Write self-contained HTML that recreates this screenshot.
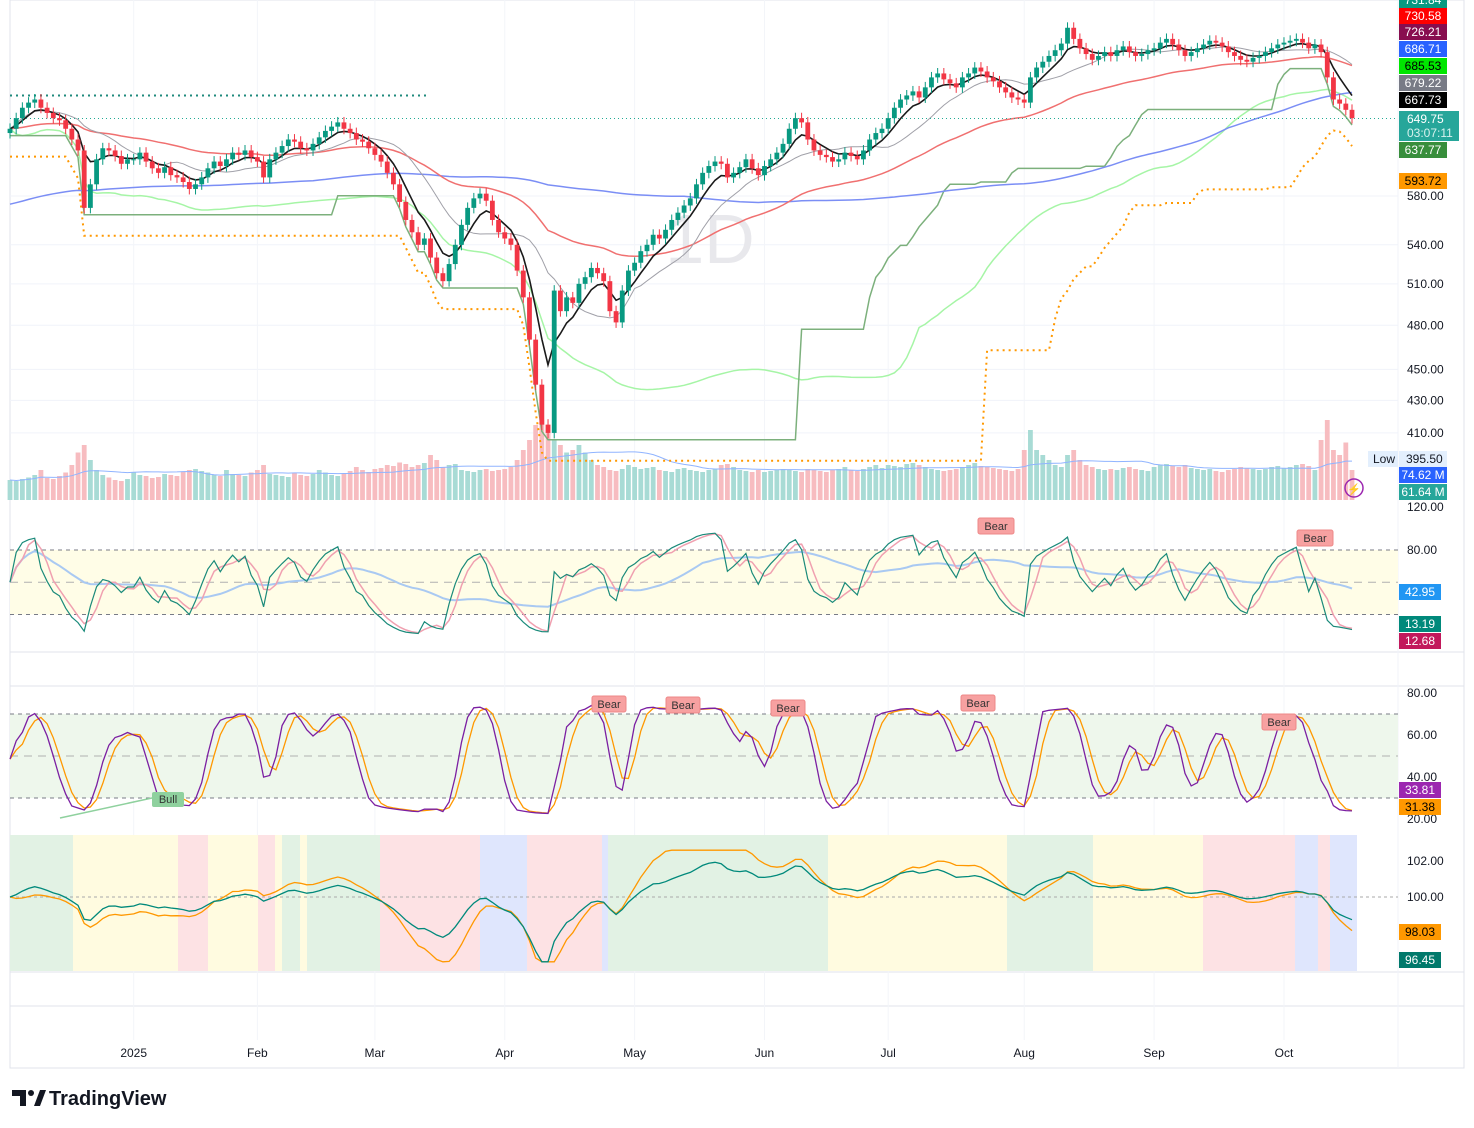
<!DOCTYPE html>
<html><head><meta charset="utf-8">
<style>
body{margin:0;background:#fff;font-family:"Liberation Sans",sans-serif;}
#wrap{position:relative;width:1474px;height:1128px;overflow:hidden;}
svg text{font-family:"Liberation Sans",sans-serif;}
</style></head>
<body>
<div id="wrap">
<svg id="c" width="1474" height="1128" xmlns="http://www.w3.org/2000/svg"></svg>
</div>
<script>
// ---- data ----
const closes=[640,650,660,665,668,660,655,650,648,640,630,620,570,590,612,622,620,615,608,612,
612,618,610,604,600,605,598,596,592,586,590,596,604,610,606,612,618,616,620,614,610,
596,612,618,624,630,628,622,620,626,632,638,642,646,640,636,630,628,622,616,
610,600,590,575,560,550,540,545,530,518,512,525,540,556,570,578,582,576,560,550,545,
540,520,500,470,440,415,410,505,490,500,496,510,515,522,518,512,490,482,505,520,526,
535,540,548,545,552,560,566,572,578,590,600,606,610,608,596,600,605,612,604,598,
606,612,618,626,640,650,646,630,620,616,614,610,612,618,615,612,620,630,636,640,
650,660,668,672,676,670,680,690,694,688,684,680,690,694,700,696,690,686,680,675,670,668,
665,690,700,706,712,718,725,742,730,720,714,708,712,716,712,718,722,716,712,714,718,
720,726,730,724,718,712,716,720,724,728,726,722,716,712,708,706,710,712,716,720,724,
726,728,730,726,720,724,716,690,668,664,658,650];
const volumes=[40,38,42,45,50,60,44,42,48,55,70,95,110,80,60,50,45,40,38,42,
55,50,48,44,46,52,50,48,56,60,62,58,55,50,48,60,52,50,48,55,60,
70,52,50,48,46,55,50,48,52,60,55,50,48,52,58,66,60,56,62,
64,70,68,75,72,66,70,74,90,80,66,70,72,60,58,56,60,62,58,60,62,
66,80,100,120,150,160,150,120,110,95,100,110,95,80,70,66,60,58,62,70,66,
62,64,66,60,58,56,62,64,60,58,56,60,62,70,72,66,60,58,56,60,
56,58,60,62,60,58,56,62,60,58,56,60,62,66,60,58,62,66,70,64,
70,68,66,72,74,70,66,62,60,58,60,62,66,70,74,68,66,64,62,60,58,62,
100,140,100,90,80,70,66,90,100,80,70,66,62,60,62,60,64,66,62,60,58,
66,70,72,68,66,70,64,62,60,62,58,56,60,62,66,64,62,60,62,66,68,
64,66,70,72,68,60,120,160,100,90,115,60];
const xTickLabels=['2025','Feb','Mar','Apr','May','Jun','Jul','Aug','Sep','Oct'];
const xTickIdx=[20,40,59,80,101,122,142,164,185,206];
const priceTicks=[580,540,510,480,450,430,410];
const rsiTicks=[120,80];
const stTicks=[80,60,40,20];
const rocTicks=[102,100];

const S=document.getElementById('c');
const NS='http://www.w3.org/2000/svg';
function el(tag,attrs,parent){const e=document.createElementNS(NS,tag);for(const k in attrs)e.setAttribute(k,attrs[k]);(parent||S).appendChild(e);return e;}
function tx(x,y,s,attrs,parent){const e=el('text',Object.assign({x:x,y:y},attrs),parent);e.textContent=s;return e;}

const N=closes.length;
const X0=10,X1=1352;
const xs=i=>X0+i*(X1-X0)/(N-1);
const py=p=>196+(Math.log(580)-Math.log(p))*683;
const rsiY=v=>550+(80-v)*1.075;
const stY=v=>693+(80-v)*2.1;
const rocY=v=>897-(v-100)*18;

function sma(a,n){return a.map((_,i)=>{const s=a.slice(Math.max(0,i-n+1),i+1);return s.reduce((x,y)=>x+y,0)/s.length;});}
function ema(a,n){const k=2/(n+1);let r=[];a.forEach((v,i)=>r.push(i?r[i-1]+k*(v-r[i-1]):v));return r;}
function std(a,n){const m=sma(a,n);return a.map((_,i)=>{const s=a.slice(Math.max(0,i-n+1),i+1);return Math.sqrt(s.reduce((x,y)=>x+(y-m[i])**2,0)/s.length);});}
function poly(vals,yf,attrs,name){const pts=vals.map((v,i)=>v==null?null:xs(i).toFixed(1)+','+yf(v).toFixed(1)).filter(Boolean).join(' ');const p=el('polyline',Object.assign({points:pts,fill:'none'},attrs));return p;}

el('rect',{x:10,y:0,width:1454,height:1068,fill:'none',stroke:'#e0e3eb'});
[652,686,972,1006].forEach(y=>el('line',{x1:10,x2:1464,y1:y,y2:y,stroke:'#e0e3eb'}));
el('line',{x1:1398,x2:1398,y1:0,y2:1068,stroke:'#f0f3fa'});
priceTicks.forEach(p=>{el('line',{x1:10,x2:1398,y1:py(p),y2:py(p),stroke:'#f0f3fa'});const t=tx(1407,py(p)+4,p.toFixed(2),{'font-size':12,fill:'#131722'});});
xTickIdx.forEach((ix,k)=>{el('line',{x1:xs(ix),x2:xs(ix),y1:0,y2:1040,stroke:'#f3f5f9'});const t=tx(xs(ix),1057,xTickLabels[k],{'font-size':12,fill:'#131722','text-anchor':'middle'});});

tx(710,263,'1D',{'font-size':70,fill:'#e8e8ec','text-anchor':'middle'});

const pre=Array(60).fill(572);
const ext=pre.concat(closes);
const s200=sma(ext,110).slice(60);
const e90=ema(closes,45),s10=ema(closes,6),s20=sma(closes,14),sd=std(closes,60),s60=sma(closes,60);
const lowBand=s60.map((m,i)=>m-2*sd[i]);
const donch=closes.map((_,i)=>Math.min(...closes.slice(Math.max(0,i-40),i+1))*0.99);
const trail=closes.map((_,i)=>Math.min(...closes.slice(Math.max(0,i-70),i+1))*0.96);
const vb=500;
volumes.forEach((v,i)=>{const up=i==0||closes[i]>=closes[i-1];const r=el('rect',{x:xs(i)-2.4,y:vb-v*0.5,width:4.8,height:v*0.5,fill:up?'#a8dbd5':'#f7bcc0'});});
poly(sma(volumes,20),v=>vb-v*0.5,{stroke:'#90b4ff','stroke-width':1},'volume-ma');

poly(lowBand,py,{stroke:'#a6f5a6','stroke-width':1.5},'lower-band-line');
poly(donch,py,{stroke:'#7cb07c','stroke-width':1.5},'donchian-low-line');
poly(trail,py,{stroke:'#ff9800','stroke-width':2,'stroke-dasharray':'2,4'},'trailing-stop');
poly(s200,py,{stroke:'#7b8ef5','stroke-width':1.5},'sma-200-line');
poly(e90,py,{stroke:'#f07070','stroke-width':1.5},'ema-50-line');
poly(s20,py,{stroke:'#a0a0a8','stroke-width':1},'sma-20-line');
poly(s10,py,{stroke:'#1a1a1a','stroke-width':1.6},'sma-10-line');
el('line',{x1:10,x2:430,y1:py(672),y2:py(672),stroke:'#1f8a7c','stroke-width':2,'stroke-dasharray':'2,4'});
el('line',{x1:10,x2:1398,y1:py(649.75),y2:py(649.75),stroke:'#22ab94','stroke-width':1,'stroke-dasharray':'1,3'});

closes.forEach((c,i)=>{const o=i?closes[i-1]:c-4;const up=c>=o;const col=up?'#089981':'#f23645';const hi=Math.max(o,c)*1.008,lo=Math.min(o,c)*0.992;
const w=el('line',{x1:xs(i),x2:xs(i),y1:py(hi),y2:py(lo),stroke:col});
const y1=py(Math.max(o,c)),y2=py(Math.min(o,c));const b=el('rect',{x:xs(i)-2.4,y:y1,width:4.8,height:Math.max(1,y2-y1),fill:col});});

const pl=[['731.84','#089981','#fff',0],['730.58','#ff0000','#fff',16],['726.21','#880e4f','#fff',32],['686.71','#2962ff','#fff',49],['685.53','#00e600','#000',66],['679.22','#787b86','#fff',83],['667.73','#000','#fff',100],['637.77','#388e3c','#fff',150],['593.72','#ff9800','#000',181],['74.62 M','#2962ff','#fff',475],['61.64 M','#26a69a','#fff',492]];
pl.forEach(l=>{const g=el('g',{});el('rect',{x:1399,y:l[3]-8,width:48,height:16,fill:l[1]},g);tx(1423,l[3]+4,l[0],{'font-size':12,'text-anchor':'middle',fill:l[2]},g);});
const cur=el('g',{});
el('rect',{x:1399,y:111,width:60,height:30,fill:'#26a69a'},cur);tx(1407,123,'649.75',{'font-size':12,fill:'#fff'},cur);tx(1407,137,'03:07:11',{'font-size':12,fill:'#d8f2ee'},cur);
el('rect',{x:1368,y:451,width:30,height:16,fill:'#e3effd'});tx(1373,463,'Low',{'font-size':12,fill:'#131722'});
el('rect',{x:1399,y:451,width:48,height:16,fill:'#e3effd'});tx(1406,463,'395.50',{'font-size':12,fill:'#131722'});
el('circle',{cx:1354,cy:488,r:9,fill:'none',stroke:'#9c27b0','stroke-width':1.5});tx(1354,493,'⚡',{'font-size':11,fill:'#9c27b0','text-anchor':'middle'});

const rsi=(()=>{let ag=1,al=1,r=[];closes.forEach((c,i)=>{if(i==0){r.push(50);return;}const d=c-closes[i-1];ag=(ag*4+Math.max(d,0))/5;al=(al*4+Math.max(-d,0))/5;r.push(al==0?100:100-100/(1+ag/al));});return r;})();
el('rect',{x:10,y:rsiY(80),width:1388,height:rsiY(20)-rsiY(80),fill:'#fffde7'});
[80,50,20].forEach(v=>el('line',{x1:10,x2:1398,y1:rsiY(v),y2:rsiY(v),stroke:v==50?'#b0b0b0':'#787b86','stroke-dasharray':v==50?'8,6':'4,4'}));
rsiTicks.forEach(v=>tx(1407,rsiY(v)+4,v.toFixed(2),{'font-size':12,fill:'#131722'}));
poly(sma(rsi,25),rsiY,{stroke:'#a9c9f2','stroke-width':2},'rsi-long-ma');
poly(sma(rsi,3),rsiY,{stroke:'#f0a0b0','stroke-width':1.5},'rsi-signal');
poly(rsi,rsiY,{stroke:'#1a8a7a','stroke-width':1.2},'rsi-line');
[['42.95','#2196f3',592],['13.19','#00897b',624],['12.68','#c2185b',641]].forEach(l=>{el('rect',{x:1399,y:l[2]-8,width:42,height:16,fill:l[1]});tx(1420,l[2]+4,l[0],{'font-size':12,fill:'#fff','text-anchor':'middle'});});
[[996,526],[1315,538]].forEach(b=>{el('rect',{x:b[0]-18,y:b[1]-8,width:36,height:16,rx:2,fill:'#f7a1a1',stroke:'#e88'});tx(b[0],b[1]+4,'Bear',{'font-size':11,fill:'#333','text-anchor':'middle'});});

const kRaw=closes.map((c,i)=>{const s=closes.slice(Math.max(0,i-7),i+1);const h=Math.max(...s)*1.004,l=Math.min(...s)*0.996;return 100*(c-l)/(h-l);});
const K=sma(kRaw,3),D=sma(K,3);
const kS=K.map(v=>22+v*0.53),dS=D.map(v=>22+v*0.53);
el('rect',{x:10,y:stY(70),width:1388,height:stY(30)-stY(70),fill:'#eef7ec'});
[70,50,30].forEach(v=>el('line',{x1:10,x2:1398,y1:stY(v),y2:stY(v),stroke:v==50?'#b0b0b0':'#787b86','stroke-dasharray':v==50?'8,6':'4,4'}));
stTicks.forEach(v=>tx(1407,stY(v)+4,v.toFixed(2),{'font-size':12,fill:'#131722'}));
poly(dS,stY,{stroke:'#ff9800','stroke-width':1.3},'stoch-d');
poly(kS,stY,{stroke:'#7b1fa2','stroke-width':1.3},'stoch-k');
[['33.81','#9c27b0','#fff',790],['31.38','#ff9800','#000',807]].forEach(l=>{el('rect',{x:1399,y:l[3]-8,width:42,height:16,fill:l[1]});tx(1420,l[3]+4,l[0],{'font-size':12,fill:l[2],'text-anchor':'middle'});});
[[609,704],[683,705],[788,708],[978,703],[1279,722]].forEach(b=>{el('rect',{x:b[0]-17,y:b[1]-8,width:34,height:16,rx:2,fill:'#f7a1a1',stroke:'#e88'});tx(b[0],b[1]+4,'Bear',{'font-size':11,fill:'#333','text-anchor':'middle'});});
el('rect',{x:152,y:792,width:32,height:15,rx:2,fill:'#8fd19e'});tx(168,803,'Bull',{'font-size':11,fill:'#333','text-anchor':'middle'});
el('line',{x1:60,y1:818,x2:152,y2:798,stroke:'#8fd19e','stroke-width':1.5});

const segs=[[10,73,'#e2f2e4'],[73,178,'#fffbe0'],[178,208,'#fde2e4'],[208,258,'#fffbe0'],[258,275,'#fde2e4'],[275,282,'#fffbe0'],[282,300,'#e2f2e4'],[300,307,'#fffbe0'],[307,380,'#e2f2e4'],[380,480,'#fde2e4'],[480,527,'#dfe6fd'],[527,602,'#fde2e4'],[602,608,'#dfe6fd'],[608,828,'#e2f2e4'],[828,1007,'#fffbe0'],[1007,1093,'#e2f2e4'],[1093,1203,'#fffbe0'],[1203,1295,'#fde2e4'],[1295,1318,'#dfe6fd'],[1318,1330,'#fde2e4'],[1330,1357,'#dfe6fd']];
segs.forEach(s=>el('rect',{x:s[0],y:835,width:s[1]-s[0],height:136,fill:s[2]}));
el('line',{x1:10,x2:1398,y1:rocY(100),y2:rocY(100),stroke:'#aaa','stroke-dasharray':'3,3'});
rocTicks.forEach(v=>tx(1407,rocY(v)+4,v.toFixed(2),{'font-size':12,fill:'#131722'}));
const e3=ema(closes,3),e30=ema(closes,30),s25=sma(closes,25);
const teal=e3.map((v,i)=>100+(v/e30[i]-1)*20);
const orange=ema(closes,5).map((v,i)=>100+(v/s25[i]-1)*32);
poly(orange.map(v=>Math.max(96.4,Math.min(102.6,v))),rocY,{stroke:'#ff9800','stroke-width':1.3},'roc-orange');
poly(teal.map(v=>Math.max(96.4,Math.min(103,v))),rocY,{stroke:'#00897b','stroke-width':1.3},'roc-teal');
[['98.03','#ff9800','#000',932],['96.45','#00796b','#fff',960]].forEach(l=>{el('rect',{x:1399,y:l[3]-8,width:42,height:16,fill:l[1]});tx(1420,l[3]+4,l[0],{'font-size':12,fill:l[2],'text-anchor':'middle'});});

const lg=el('g',{});
el('path',{d:'M12 1090h14v16h-6v-10h-8z',fill:'#131722'},lg);
el('circle',{cx:31,cy:1093,r:3,fill:'#131722'},lg);
el('path',{d:'M34 1106l6-16h6l-6 16z',fill:'#131722'},lg);
tx(49,1105,'TradingView',{'font-size':20,'font-weight':'bold',fill:'#131722'},lg);
</script>
</body></html>
